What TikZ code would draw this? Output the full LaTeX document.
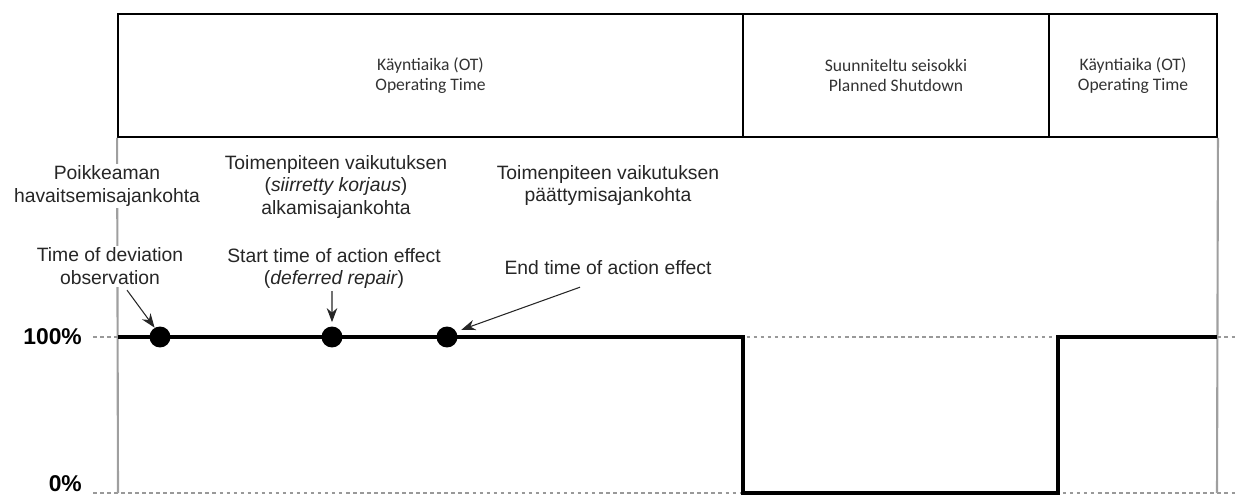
\documentclass[tikz,border=0pt]{standalone}
\usepackage{fontspec}
\setmainfont{Liberation Sans}
\newfontfamily\boxfont{Carlito}
\usetikzlibrary{arrows.meta}

\tikzset{
  period/.style={draw, line width=1.1pt, inner sep=0pt, minimum height=2.46cm,
    align=center, font=\boxfont\fontsize{10}{11.5}\selectfont, text=black!80},
  axisline/.style={gray!75, line width=1.2pt},
  level/.style={gray!80, line width=0.6pt, dash pattern=on 2pt off 2pt},
  avail/.style={line width=2pt, line join=miter},
  dot/.style={circle, fill=black, inner sep=0pt, minimum size=0.42cm},
  lab/.style={align=center, fill=white, inner sep=1pt,
    font=\fontsize{11}{13}\selectfont, text=black!85},
  arr/.style={-{Stealth[length=8pt,width=6pt]}, line width=0.6pt, black!85}
}

\begin{document}
\begin{tikzpicture}[x=0.02cm, y=-0.02cm]
    \useasboundingbox (0,0) rectangle (1236,499);

    % Jaksot
    \node[period, minimum width=12.5cm] (ot1) at (430.5,75.5) {Käyntiaika (OT)\\Operating Time};
    \node[period, minimum width=6.12cm] (ps) at (896,75.5) {Suunniteltu seisokki\\Planned Shutdown};
    \node[period, minimum width=3.36cm] (ot2) at (1133,75.5) {Käyntiaika (OT)\\Operating Time};

    % Tasot 100% ja 0%
    \node[anchor=east, font=\bfseries\fontsize{13}{15}\selectfont] (full) at (88,337) {100\%};
    \node[anchor=east, font=\bfseries\fontsize{13}{15}\selectfont] (zero) at (88,484) {0\%};
    \draw[level] (full.east) ++(5,0) -- (1236,337);
    \draw[level] (zero.east) ++(5,9) -- (1236,493);

    % Aika-akselin rajat
    \draw[axisline] (ot1.south west) -- (118,493);
    \draw[axisline] (ot2.south east) -- (1217,493);

    % Käytettävyys
    \draw[avail] (118,337) -- (743,337) -- (743,493) -- (1058,493) -- (1058,337) -- (1217,337);

    % Ajankohdat
    \node[dot] (obs) at (160,337) {};
    \node[dot] (start) at (332,337) {};
    \node[dot] (stop) at (447,337) {};

    \node[lab] (obsfi) at (107,186) {Poikkeaman\\havaitsemisajankohta};
    \node[lab] (obsen) at (110,266.5) {Time of deviation\\observation};
    \node[lab] (startfi) at (336,187) {Toimenpiteen vaikutuksen\\(\textit{siirretty korjaus})\\alkamisajankohta};
    \node[lab] (starten) at (334,268.5) {Start time of action effect\\(\textit{deferred repair})};
    \node[lab] (stopfi) at (608,185.5) {Toimenpiteen vaikutuksen\\päättymisajankohta};
    \node[lab] (stopen) at (608,268) {End time of action effect};

    % Nuolet
    \draw[arr] ([xshift=0.34cm, yshift=-0.06cm]obsen.south) -- (obs.120);
    \draw[arr] ([xshift=-0.04cm]starten.south) -- ([yshift=0.08cm]start.north);
    \draw[arr, shorten >=3pt] ([xshift=-0.56cm, yshift=-0.2cm]stopen.south) -- (stop.30);
\end{tikzpicture}
\end{document}
